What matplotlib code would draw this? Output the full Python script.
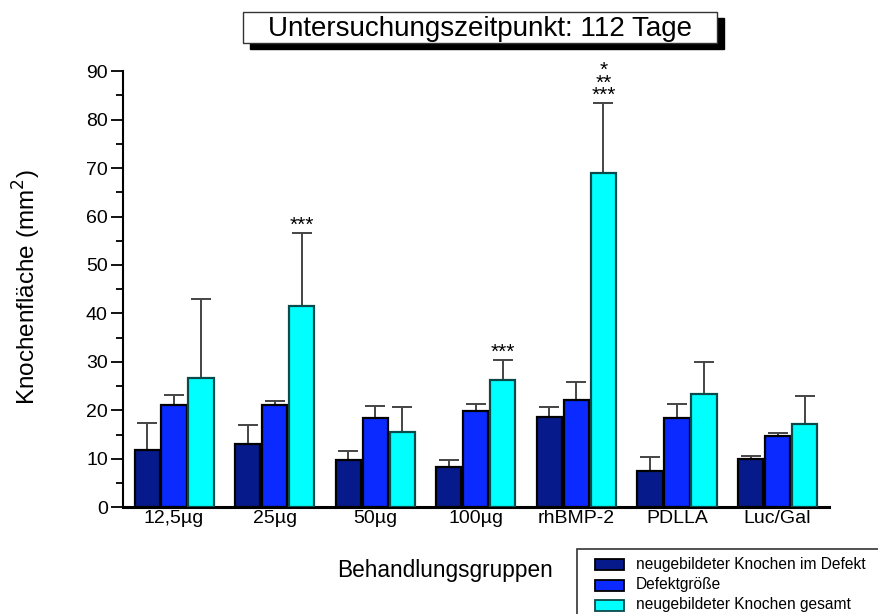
import matplotlib
matplotlib.use("Agg")
import matplotlib.pyplot as plt
import numpy as np
from matplotlib.patches import Rectangle
from matplotlib.ticker import MultipleLocator

categories = ["12,5µg", "25µg", "50µg", "100µg", "rhBMP-2", "PDLLA", "Luc/Gal"]
series_names = ["neugebildeter Knochen im Defekt", "Defektgröße", "neugebildeter Knochen gesamt"]
defekt_neu = [11.9, 13.1, 9.8, 8.3, 18.7, 7.4, 10.0]
defekt_neu_err = [5.5, 3.9, 1.8, 1.5, 1.9, 3.0, 0.5]
defekt_groesse = [21.0, 21.0, 18.5, 19.8, 22.2, 18.5, 14.6]
defekt_groesse_err = [2.2, 0.9, 2.4, 1.6, 3.7, 2.9, 0.8]
gesamt = [26.7, 41.5, 15.5, 26.2, 68.9, 23.3, 17.2]
gesamt_err = [16.2, 15.1, 5.2, 4.1, 14.6, 6.6, 5.7]
signif = {1: "***", 3: "***", 4: "*\n**\n***"}

colors = ["#071a8c", "#0a2aff", "#00ffff"]
edges = ["#000000", "#000000", "#0a4a4a"]

plt.rcParams['font.family'] = ['Liberation Sans', 'DejaVu Sans']
W, H = 879, 614
fig = plt.figure(figsize=(W / 100, H / 100), dpi=100)
ax = fig.add_axes([0.140, 0.174, 0.803, 0.710])

x = np.arange(len(categories))
w = 0.25
off = 0.268
data = [(defekt_neu, defekt_neu_err), (defekt_groesse, defekt_groesse_err), (gesamt, gesamt_err)]
for i, (vals, errs) in enumerate(data):
    xs = x + (i - 1) * off
    ax.bar(xs, vals, w, color=colors[i], edgecolor=edges[i], linewidth=1.6, zorder=3)
    ax.errorbar(xs, vals, yerr=[np.zeros(len(vals)), errs], fmt='none', ecolor='#444444',
                elinewidth=1.4, capsize=7.5, capthick=1.4, zorder=2)

for k, s in signif.items():
    top = gesamt[k] + gesamt_err[k]
    ax.annotate(s, (x[k] + off, top), xytext=(0, 1.5), textcoords='offset points',
                ha='center', va='baseline', fontsize=15, linespacing=0.55)

ax.set_xlim(-0.507, 6.51)
ax.set_ylim(0, 90)
ax.yaxis.set_major_locator(MultipleLocator(10))
ax.yaxis.set_minor_locator(MultipleLocator(5))
ax.tick_params(axis='y', which='major', length=9, width=1.3, labelsize=14, pad=2)
ax.tick_params(axis='y', which='minor', length=5, width=1.3)
ax.set_xticks(x)
ax.set_xticklabels(categories)
ax.tick_params(axis='x', length=0, labelsize=14, pad=2)
for s in ['top', 'right']:
    ax.spines[s].set_visible(False)
ax.spines['left'].set_linewidth(1.5)
ax.spines['bottom'].set_linewidth(2.2)

fig.text(0.031, 0.532, "Knochenfläche (mm$^2$)", rotation=90, ha='center', va='center', fontsize=17.5)
fig.text(0.506, 1 - 577 / H, "Behandlungsgruppen", ha='center', va='baseline', fontsize=16.3)

# title box with shadow
bx0, by0, bx1, by1 = 243, 12, 717, 43
fig.patches.append(Rectangle(((bx0 + 7) / W, 1 - (by1 + 6) / H), (bx1 - bx0) / W, (by1 - by0) / H,
                             transform=fig.transFigure, facecolor='black', edgecolor='black', zorder=1))
fig.patches.append(Rectangle((bx0 / W, 1 - by1 / H), (bx1 - bx0) / W, (by1 - by0) / H,
                             transform=fig.transFigure, facecolor='white', edgecolor='#333333',
                             linewidth=1, zorder=2))
fig.text((bx0 + bx1) / 2 / W, 1 - (by0 + by1) / 2 / H - 0.002, "Untersuchungszeitpunkt: 112 Tage",
         ha='center', va='center', fontsize=20, zorder=3)

# legend
fig.patches.append(Rectangle((577 / W, -0.05), (W - 577) / W + 0.05, 1 - 549 / H + 0.05,
                             transform=fig.transFigure,
                             facecolor='white', edgecolor='#333333', linewidth=1.2, zorder=1))
row_y = [564, 585, 605]
for i, name in enumerate(series_names):
    fig.patches.append(Rectangle((595 / W, 1 - (row_y[i] + 5.5) / H), 29 / W, 11 / H,
                                 transform=fig.transFigure, facecolor=colors[i], edgecolor=edges[i],
                                 linewidth=1.3, zorder=2))
    fig.text(636 / W, 1 - row_y[i] / H, name, ha='left', va='center', fontsize=11.2, zorder=3)

fig.savefig("out.png", dpi=100)
